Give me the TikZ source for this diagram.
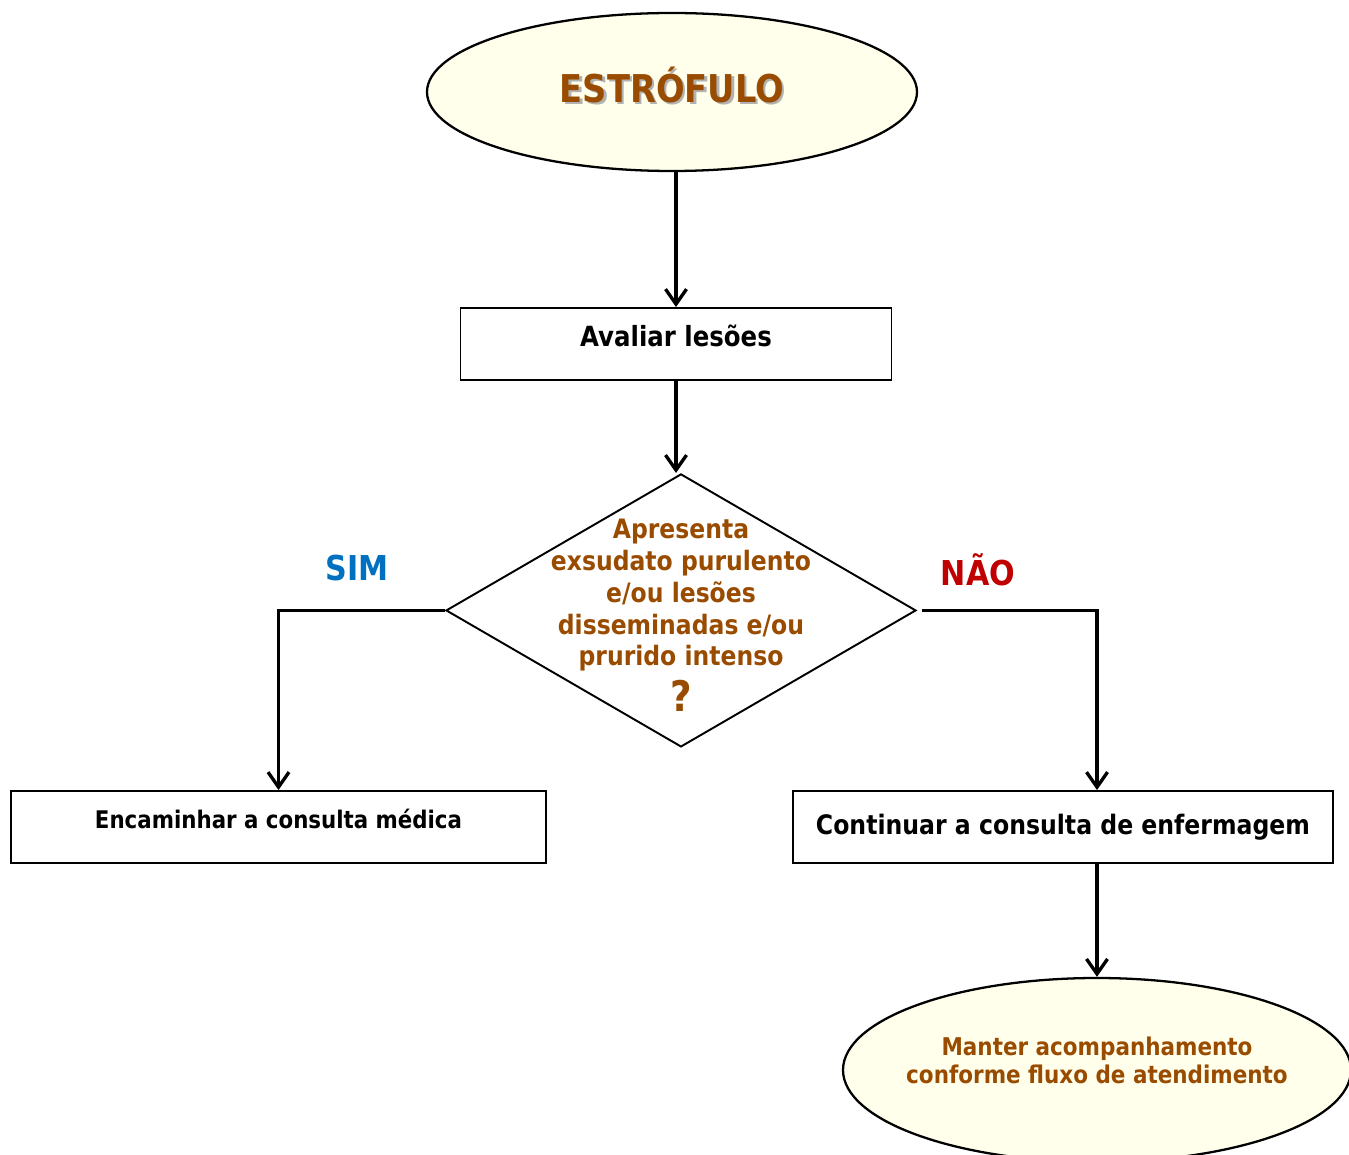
\documentclass[tikz,border=0pt]{standalone}
\usepackage{fontspec}
\setmainfont{DejaVu Sans}[FakeStretch=0.88]
\usetikzlibrary{positioning,shapes.geometric,arrows.meta}
\definecolor{marrom}{RGB}{153,76,0}
\definecolor{creme}{RGB}{255,255,236}
\definecolor{azulsim}{RGB}{0,112,192}
\definecolor{vermelhonao}{RGB}{192,0,0}

\begin{document}
\begin{tikzpicture}[
                    elipsenode/.style={ellipse, draw=black, fill=creme, line width=1.3pt, inner sep=0pt, text=marrom},
                    caixanode/.style={rectangle, draw=black, line width=1.1pt, minimum height=1.44cm, inner sep=0pt},
                    losangonode/.style={diamond, draw=black, line width=1.1pt, minimum width=9.4cm, minimum height=5.46cm, inner sep=0pt},
                    seta/.style={line width=1.9pt, -{Straight Barb[length=0.3cm, width=0.42cm]}},
                    rotulo/.style={font=\bfseries\fontsize{19.5}{22}\selectfont},
                ]
                    \useasboundingbox (0,0) rectangle (26.98,-23.1);

                    %Nodes
                    \node[elipsenode, minimum width=9.8cm, minimum height=3.16cm, inner xsep=-1cm, text depth=0.3cm, font=\bfseries\fontsize{21.8}{24}\selectfont](titulo) at (13.44,-1.84) {\makebox[0pt][l]{\kern1.3pt\raisebox{-1.3pt}{\color{black!30}ESTRÓFULO}}ESTRÓFULO};
                    \node[caixanode, minimum width=8.62cm, text depth=0.35cm, font=\bfseries\fontsize{15.8}{18}\selectfont](avaliar) at (13.52,-6.88) {Avaliar lesões};
                    \node[losangonode](losango)[below=1.84cm of avaliar, xshift=0.1cm] {};
                    \node[align=center, text=marrom, font=\bfseries\fontsize{15.2}{18.1}\selectfont](pergunta) at ([yshift=-0.1cm]losango) {Apresenta\\exsudato purulento\\e/ou lesões\\disseminadas e/ou\\prurido intenso\\[4pt]{\fontsize{24}{22}\selectfont ?}};
                    \node[rotulo, text=azulsim](sim) at (7.14,-11.36) {SIM};
                    \node[rotulo, text=vermelhonao](nao) at (19.56,-11.4) {NÃO};
                    \node[caixanode, minimum width=10.7cm, text depth=0.32cm, font=\bfseries\fontsize{13.8}{16}\selectfont](encaminhar) at (5.57,-16.54) {Encaminhar a consulta médica};
                    \node[caixanode, minimum width=10.8cm, font=\bfseries\fontsize{15.25}{18}\selectfont](continuar) at (21.26,-16.54) {Continuar a consulta de enfermagem};
                    \node[elipsenode, minimum width=10.16cm, minimum height=3.68cm, inner xsep=-0.8cm, text depth=0.39cm, align=center, font=\bfseries\fontsize{13.9}{16.4}\selectfont](manter) at (21.94,-21.4) {Manter acompanhamento\\conforme fluxo de atendimento};

                    %Lines
                    \draw[seta](titulo.south -| avaliar) -- (avaliar);
                    \draw[seta](avaliar) -- (avaliar |- losango.north);
                    \draw[seta](losango.west) -| (encaminhar.north);
                    \draw[seta]([xshift=0.1cm]losango.east) -| (manter |- continuar.north);
                    \draw[seta](manter |- continuar.south) -- (manter.north);
                \end{tikzpicture}
\end{document}
